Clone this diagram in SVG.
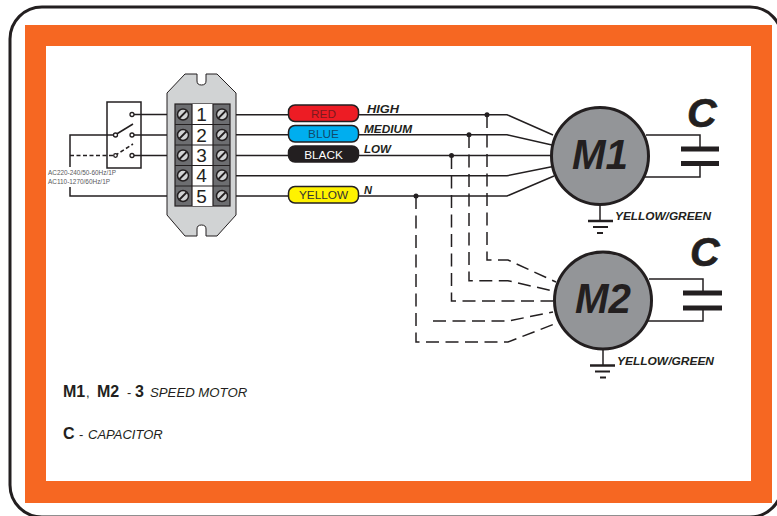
<svg xmlns="http://www.w3.org/2000/svg" width="777" height="516" viewBox="0 0 777 516">
<style>
text{font-family:"Liberation Sans",Arial,sans-serif;fill:#231f20}
.w{fill:none;stroke:#231f20;stroke-width:1.5}
.d{fill:none;stroke:#231f20;stroke-width:1.5;stroke-dasharray:13 6.5}
.s{fill:none;stroke:#231f20;stroke-width:1.5;stroke-dasharray:4 2.5}
.mot{fill:#939598;stroke:#231f20;stroke-width:3}
.big{font-weight:bold;font-style:italic;font-size:42px}
.cc{font-weight:bold;font-style:italic;font-size:41px;stroke:#231f20;stroke-width:.6}
.lab{font-weight:bold;font-style:italic;font-size:11.5px}
.pill{stroke:#231f20;stroke-width:1.5}
.pt{font-size:11.8px;text-anchor:middle}
.plate{fill:#231f20}
.scr{fill:#d1d3d4;stroke:#231f20;stroke-width:1.5}
.sl{stroke:#231f20;stroke-width:1.8}
.num{font-size:19px;text-anchor:middle}
.leg{font-weight:bold;font-size:16px}
.it{font-style:italic;font-size:13.2px}
.rg{font-size:13px}
.ac{font-size:6.6px;fill:#58595b}
.j{fill:#231f20}
.t{fill:#fff;stroke:#231f20;stroke-width:1.3}
</style>
<rect width="777" height="516" fill="#fff"/>
<rect x="10" y="7" width="772" height="510" rx="32" fill="none" stroke="#231f20" stroke-width="3"/>
<path d="M25 25H772V503H25ZM46 46V481H751V46Z" fill="#f66722" fill-rule="evenodd"/>

<g id="connectors">
<path class="w" d="M132 114.500H175M132 135H175M132 155.500H175M115 135H70V167M70 187V196H175"/>
<path class="w" d="M235 114.700H507L553 135M235 134.800H507L552 145M235 155.600H551M235 175.800H507L553 166.500M235 196H507L554 176"/>
<path class="s" d="M70 155.500H115"/>
<path class="w" d="M115 135L133 124"/>
<path class="s" d="M115 155.500L133 144"/>
<path class="d" d="M487 115V260H508L556 282"/>
<path class="d" d="M469 135V280.700H508L553 291"/>
<path class="d" d="M451.500 156V301H553"/>
<path class="d" d="M433 321H508L553 312"/>
<path class="d" d="M416 196V342H508L557 323"/>
<circle class="j" cx="487" cy="114.700" r="2.500"/>
<circle class="j" cx="469" cy="134.800" r="2.500"/>
<circle class="j" cx="451.500" cy="155.600" r="2.500"/>
<circle class="j" cx="416" cy="196" r="2.500"/>
</g>

<g id="switch">
<rect x="107" y="102" width="34" height="66" fill="none" stroke="#231f20" stroke-width="1.500"/>
<circle class="t" cx="132" cy="114.500" r="2"/>
<circle class="t" cx="132" cy="135" r="2"/>
<circle class="t" cx="132" cy="155.500" r="2"/>
<circle class="t" cx="115.500" cy="135" r="2"/>
<circle class="t" cx="115.500" cy="155.500" r="1.800"/>
</g>
<text class="ac" x="48" y="175" textLength="68" lengthAdjust="spacingAndGlyphs">AC220-240/50-60Hz/1P</text>
<text class="ac" x="48" y="184" textLength="62" lengthAdjust="spacingAndGlyphs">AC110-1270/60Hz/1P</text>

<g id="terminal-block">
<path d="M185 74H197V81Q197 85 201.500 85Q206 85 206 81V74H217L236 93V215L217 236H206V229Q206 225 201.500 225Q197 225 197 229V236H185L167 215V93Z" fill="#d1d3d4" stroke="#231f20" stroke-width="1"/>
<rect x="175" y="104" width="55" height="102" fill="#6d6e71" stroke="#231f20" stroke-width="1.200"/>
<rect x="192" y="104" width="21" height="102" fill="#fff"/>
<path d="M175 124.500H230M175 145H230M175 165.500H230M175 186H230M192 104V206M213 104V206" stroke="#231f20" stroke-width="1.200" fill="none"/>
<g id="screws">
<circle class="scr" cx="183" cy="114.500" r="5.500"/><path class="sl" d="M179.500 118L186.500 111"/>
<circle class="scr" cx="183" cy="135" r="5.500"/><path class="sl" d="M179.500 138.500L186.500 131.500"/>
<circle class="scr" cx="183" cy="155.500" r="5.500"/><path class="sl" d="M179.500 159L186.500 152"/>
<circle class="scr" cx="183" cy="175.500" r="5.500"/><path class="sl" d="M179.500 179L186.500 172"/>
<circle class="scr" cx="183" cy="196" r="5.500"/><path class="sl" d="M179.500 199.500L186.500 192.500"/>
<circle class="scr" cx="222" cy="114.500" r="5.500"/><path class="sl" d="M218.500 118L225.500 111"/>
<circle class="scr" cx="222" cy="135" r="5.500"/><path class="sl" d="M218.500 138.500L225.500 131.500"/>
<circle class="scr" cx="222" cy="155.500" r="5.500"/><path class="sl" d="M218.500 159L225.500 152"/>
<circle class="scr" cx="222" cy="175.500" r="5.500"/><path class="sl" d="M218.500 179L225.500 172"/>
<circle class="scr" cx="222" cy="196" r="5.500"/><path class="sl" d="M218.500 199.500L225.500 192.500"/>
</g>
<text class="num" x="201.500" y="121">1</text>
<text class="num" x="201.500" y="141.500">2</text>
<text class="num" x="201.500" y="162">3</text>
<text class="num" x="201.500" y="182">4</text>
<text class="num" x="201.500" y="202.500">5</text>
</g>

<g id="pill-red"><rect class="pill" x="288.500" y="105" width="70" height="16.500" rx="6.500" fill="#ed1c24"/><text class="pt" x="323.500" y="117.500" style="fill:#7a1a1e">RED</text></g>
<g id="pill-blue"><rect class="pill" x="288.500" y="125.500" width="70" height="16.500" rx="6.500" fill="#00aeef"/><text class="pt" x="323.500" y="138" style="fill:#10496b">BLUE</text></g>
<g id="pill-black"><rect class="pill" x="288.500" y="146" width="70" height="16" rx="6.500" fill="#231f20"/><text class="pt" x="323.500" y="158.500" style="fill:#fff">BLACK</text></g>
<g id="pill-yellow"><rect class="pill" x="288.500" y="186.500" width="70" height="16.500" rx="6.500" fill="#fff200"/><text class="pt" x="323.500" y="199" style="fill:#333">YELLOW</text></g>

<text class="lab" x="367" y="113" textLength="32" lengthAdjust="spacingAndGlyphs">HIGH</text>
<text class="lab" x="364" y="132.700" textLength="48" lengthAdjust="spacingAndGlyphs">MEDIUM</text>
<text class="lab" x="364" y="152.700" textLength="27" lengthAdjust="spacingAndGlyphs">LOW</text>
<text class="lab" x="364" y="194" textLength="8" lengthAdjust="spacingAndGlyphs">N</text>

<g id="motor-m1">
<circle class="mot" cx="600" cy="156" r="48.500"/>
<text class="big" x="572" y="169" textLength="56" lengthAdjust="spacingAndGlyphs">M1</text>
<path class="w" d="M646 135H700V149M700 164V177H645"/>
<rect class="plate" x="681" y="146.500" width="38" height="5"/>
<rect class="plate" x="681" y="161" width="38" height="5"/>
<text class="cc" x="687" y="127">C</text>
<path class="w" d="M600 205V221"/>
<path d="M588 221H613" stroke="#231f20" stroke-width="2.500"/>
<path d="M593 227H608" stroke="#231f20" stroke-width="2"/>
<path d="M597 233H603" stroke="#231f20" stroke-width="2"/>
<text class="lab" x="615" y="220" textLength="96" lengthAdjust="spacingAndGlyphs">YELLOW/GREEN</text>
</g>

<g id="motor-m2">
<circle class="mot" cx="603" cy="300.500" r="48.500"/>
<text class="big" x="575" y="313" textLength="56" lengthAdjust="spacingAndGlyphs">M2</text>
<path class="w" d="M649 279H703V293M703 308V321H648"/>
<rect class="plate" x="683" y="290.500" width="39" height="5"/>
<rect class="plate" x="683" y="305.500" width="39" height="5"/>
<text class="cc" x="690" y="266">C</text>
<path class="w" d="M603 350V365"/>
<path d="M590 365.500H615" stroke="#231f20" stroke-width="2.500"/>
<path d="M595 371.500H610" stroke="#231f20" stroke-width="2"/>
<path d="M600 377.500H606" stroke="#231f20" stroke-width="2"/>
<text class="lab" x="617" y="365" textLength="97" lengthAdjust="spacingAndGlyphs">YELLOW/GREEN</text>
</g>

<g id="legend">
<text class="leg" x="63" y="397">M1</text>
<text class="rg" x="86" y="397">,</text>
<text class="leg" x="97" y="397">M2</text>
<text class="rg" x="127" y="397">-</text>
<text class="leg" x="135" y="397">3</text>
<text class="it" x="150" y="397">SPEED MOTOR</text>
<text class="leg" x="63" y="439">C</text>
<text class="rg" x="79" y="439">-</text>
<text class="it" x="88" y="439" style="font-size:13px">CAPACITOR</text>
</g>
</svg>
